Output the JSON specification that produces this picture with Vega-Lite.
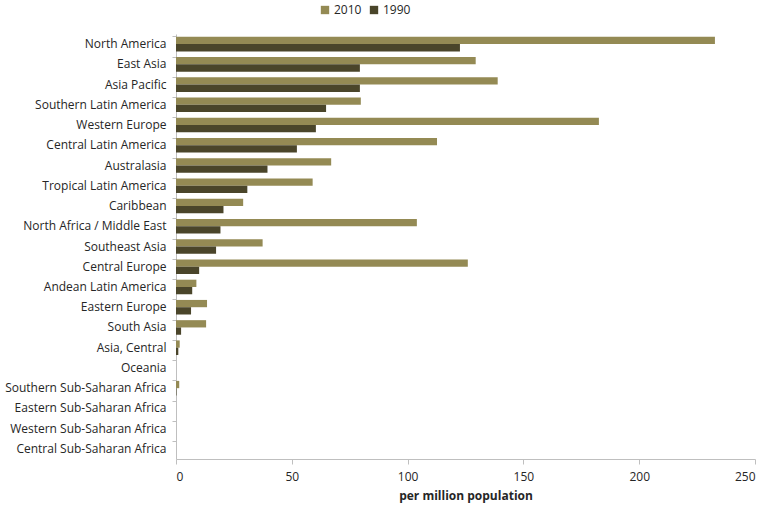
{
  "$schema": "https://vega.github.io/schema/vega-lite/v6.json",
  "width": 579,
  "height": 425,
  "autosize": {"type": "none"},
  "padding": {"left": 176, "top": 34, "right": 13, "bottom": 48},
  "background": "white",
  "config": {
    "view": {"stroke": null},
    "font": "Open Sans",
    "axis": {"labelFont": "Open Sans", "titleFont": "Open Sans", "labelColor": "#262626", "titleColor": "#262626", "labelFontSize": 12}
  },
  "data": {
    "values": [
      {"region": "North America", "year": "2010", "value": 232.7},
      {"region": "North America", "year": "1990", "value": 122.6},
      {"region": "East Asia", "year": "2010", "value": 129.4},
      {"region": "East Asia", "year": "1990", "value": 79.4},
      {"region": "Asia Pacific", "year": "2010", "value": 138.9},
      {"region": "Asia Pacific", "year": "1990", "value": 79.4},
      {"region": "Southern Latin America", "year": "2010", "value": 79.8},
      {"region": "Southern Latin America", "year": "1990", "value": 64.8},
      {"region": "Western Europe", "year": "2010", "value": 182.6},
      {"region": "Western Europe", "year": "1990", "value": 60.4},
      {"region": "Central Latin America", "year": "2010", "value": 112.7},
      {"region": "Central Latin America", "year": "1990", "value": 52.2},
      {"region": "Australasia", "year": "2010", "value": 67.0},
      {"region": "Australasia", "year": "1990", "value": 39.5},
      {"region": "Tropical Latin America", "year": "2010", "value": 59.0},
      {"region": "Tropical Latin America", "year": "1990", "value": 30.8},
      {"region": "Caribbean", "year": "2010", "value": 29.0},
      {"region": "Caribbean", "year": "1990", "value": 20.5},
      {"region": "North Africa / Middle East", "year": "2010", "value": 104.0},
      {"region": "North Africa / Middle East", "year": "1990", "value": 19.2},
      {"region": "Southeast Asia", "year": "2010", "value": 37.4},
      {"region": "Southeast Asia", "year": "1990", "value": 17.3},
      {"region": "Central Europe", "year": "2010", "value": 126.0},
      {"region": "Central Europe", "year": "1990", "value": 10.0},
      {"region": "Andean Latin America", "year": "2010", "value": 8.8},
      {"region": "Andean Latin America", "year": "1990", "value": 7.0},
      {"region": "Eastern Europe", "year": "2010", "value": 13.4},
      {"region": "Eastern Europe", "year": "1990", "value": 6.5},
      {"region": "South Asia", "year": "2010", "value": 13.0},
      {"region": "South Asia", "year": "1990", "value": 2.2},
      {"region": "Asia, Central", "year": "2010", "value": 1.6},
      {"region": "Asia, Central", "year": "1990", "value": 1.0},
      {"region": "Oceania", "year": "2010", "value": 0},
      {"region": "Oceania", "year": "1990", "value": 0},
      {"region": "Southern Sub-Saharan Africa", "year": "2010", "value": 1.4},
      {"region": "Southern Sub-Saharan Africa", "year": "1990", "value": 0.2},
      {"region": "Eastern Sub-Saharan Africa", "year": "2010", "value": 0},
      {"region": "Eastern Sub-Saharan Africa", "year": "1990", "value": 0},
      {"region": "Western Sub-Saharan Africa", "year": "2010", "value": 0},
      {"region": "Western Sub-Saharan Africa", "year": "1990", "value": 0},
      {"region": "Central Sub-Saharan Africa", "year": "2010", "value": 0},
      {"region": "Central Sub-Saharan Africa", "year": "1990", "value": 0}
    ]
  },
  "mark": {"type": "bar"},
  "encoding": {
    "y": {
      "field": "region",
      "type": "nominal",
      "sort": null,
      "scale": {"paddingInner": 0.28, "paddingOuter": 0.14},
      "axis": {
        "title": null,
        "bandPosition": 0,
        "domainColor": "#BFBFBF",
        "tickColor": "#BFBFBF",
        "tickSize": 4,
        "labelPadding": 6,
        "grid": false
      }
    },
    "yOffset": {"field": "year", "type": "nominal", "sort": ["2010", "1990"]},
    "x": {
      "field": "value",
      "type": "quantitative",
      "scale": {"domain": [0, 250], "nice": false},
      "axis": {
        "title": "per million population",
        "titleFontWeight": "bold",
        "titleFontSize": 12,
        "titlePadding": 8,
        "values": [0, 50, 100, 150, 200, 250],
        "grid": false,
        "domainColor": "#BFBFBF",
        "tickColor": "#BFBFBF",
        "tickSize": 5,
        "labelPadding": 7
      }
    },
    "color": {
      "field": "year",
      "type": "nominal",
      "scale": {"domain": ["2010", "1990"], "range": ["#948A54", "#4A452A"]},
      "legend": {
        "title": null,
        "orient": "none",
        "direction": "horizontal",
        "legendX": 143,
        "legendY": -30,
        "symbolType": "square",
        "symbolSize": 70,
        "labelOffset": 3,
        "labelFontSize": 12,
        "labelColor": "#262626",
        "columnPadding": 6
      }
    }
  }
}
